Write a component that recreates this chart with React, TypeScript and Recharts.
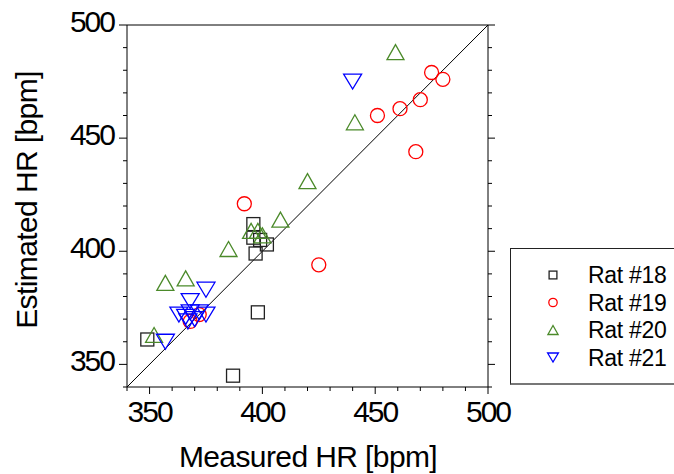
import React from "react";
import { ScatterChart, Scatter, XAxis, YAxis, ReferenceLine, Legend } from "recharts";

const axisTicks = [340, 350, 360, 370, 380, 390, 400, 410, 420, 430, 440, 450, 460, 470, 480, 490, 500];
const labeledTicks = [350, 400, 450, 500];

const rat18 = [
  { x: 349, y: 361 },
  { x: 387, y: 345 },
  { x: 398, y: 373 },
  { x: 396, y: 412 },
  { x: 396, y: 406 },
  { x: 399, y: 405 },
  { x: 402, y: 403 },
  { x: 397, y: 399 },
];

const rat19 = [
  { x: 368, y: 369 },
  { x: 372, y: 372 },
  { x: 392, y: 421 },
  { x: 425, y: 394 },
  { x: 451, y: 460 },
  { x: 461, y: 463 },
  { x: 470, y: 467 },
  { x: 468, y: 444 },
  { x: 475, y: 479 },
  { x: 480, y: 476 },
];

const rat20 = [
  { x: 352, y: 363 },
  { x: 357, y: 386 },
  { x: 366, y: 388 },
  { x: 385, y: 401 },
  { x: 395, y: 409 },
  { x: 398, y: 409 },
  { x: 400, y: 407 },
  { x: 408, y: 414 },
  { x: 420, y: 431 },
  { x: 441, y: 457 },
  { x: 459, y: 488 },
];

const rat21 = [
  { x: 357, y: 360 },
  { x: 363, y: 372 },
  { x: 366, y: 371 },
  { x: 367, y: 369 },
  { x: 368, y: 373 },
  { x: 370, y: 370 },
  { x: 372, y: 373 },
  { x: 375, y: 372 },
  { x: 368, y: 378 },
  { x: 375, y: 383 },
  { x: 440, y: 475 },
];

const series = [
  { name: "Rat #18", data: rat18, color: "#222222", kind: "square" },
  { name: "Rat #19", data: rat19, color: "#ff0000", kind: "circle" },
  { name: "Rat #20", data: rat20, color: "#4b8a2a", kind: "up" },
  { name: "Rat #21", data: rat21, color: "#0000ff", kind: "down" },
];

const FONT = "'Liberation Sans', Arial, sans-serif";

const marker = (kind: string, cx: number, cy: number, color: string, s = 1) => {
  const sw = 1.3;
  switch (kind) {
    case "square":
      return <rect x={cx - 6.5 * s} y={cy - 6.5 * s} width={13 * s} height={13 * s} fill="none" stroke={color} strokeWidth={sw} />;
    case "circle":
      return <circle cx={cx} cy={cy} r={7 * s} fill="none" stroke={color} strokeWidth={sw} />;
    case "up":
      return (
        <polygon
          points={`${cx},${cy - 7.5 * s} ${cx - 8.5 * s},${cy + 7.5 * s} ${cx + 8.5 * s},${cy + 7.5 * s}`}
          fill="none"
          stroke={color}
          strokeWidth={sw}
        />
      );
    default:
      return (
        <polygon
          points={`${cx - 9 * s},${cy - 7.5 * s} ${cx + 9 * s},${cy - 7.5 * s} ${cx},${cy + 7.5 * s}`}
          fill="none"
          stroke={color}
          strokeWidth={sw}
        />
      );
  }
};

const isMajor = (v: number) => labeledTicks.includes(v);

const BottomTick = (props: any) => {
  const { x, y, payload } = props;
  const major = isMajor(payload.value);
  return (
    <g>
      <line x1={x} x2={x} y1={y} y2={y + (major ? 7 : 4)} stroke="#000" />
      {major && (
        <text x={x} y={y + 35} textAnchor="middle" fontFamily={FONT} fontSize={30} letterSpacing={-2} fill="#000">
          {payload.value}
        </text>
      )}
    </g>
  );
};

const LeftTick = (props: any) => {
  const { x, y, payload } = props;
  const major = isMajor(payload.value);
  return (
    <g>
      <line x1={x} x2={x - (major ? 8 : 4)} y1={y} y2={y} stroke="#000" />
      {major && (
        <text x={x - 13} y={y + 7} textAnchor="end" fontFamily={FONT} fontSize={30} letterSpacing={-2} fill="#000">
          {payload.value}
        </text>
      )}
    </g>
  );
};

const TopTick = (props: any) => {
  const { x, y, payload } = props;
  return <line x1={x} x2={x} y1={y} y2={y - (isMajor(payload.value) ? 7 : 4)} stroke="#000" />;
};

const RightTick = (props: any) => {
  const { x, y, payload } = props;
  return <line x1={x} x2={x + (isMajor(payload.value) ? 7 : 4)} y1={y} y2={y} stroke="#000" />;
};

const LegendBox = () => (
  <svg width={164} height={136} style={{ display: "block" }}>
    {series.map((s, i) => {
      const cy = 26 + i * 27.5;
      return (
        <g key={s.name}>
          {marker(s.kind, 42, cy, s.color, 0.6)}
          <text x={77} y={cy + 8} fontFamily={FONT} fontSize={23} letterSpacing={-0.3} fill="#000">
            {s.name}
          </text>
        </g>
      );
    })}
  </svg>
);

export default function App() {
  return (
    <div style={{ position: "absolute", left: 0, top: 0, width: 674, height: 474, background: "#fff" }}>
      <ScatterChart width={674} height={474} margin={{ top: 0, right: 176, bottom: 0, left: 0 }}>
        <XAxis
          dataKey="x"
          type="number"
          domain={[340, 500]}
          ticks={axisTicks}
          interval={0}
          allowDataOverflow
          height={87}
          tickSize={0}
          tickMargin={0}
          tickLine={false}
          tick={BottomTick}
          axisLine={{ stroke: "#000" }}
          label={{
            content: () => (
              <text x={308} y={467} textAnchor="middle" fontFamily={FONT} fontSize={30} letterSpacing={-0.6} fill="#000">
                Measured HR [bpm]
              </text>
            ),
          }}
        />
        <XAxis
          xAxisId="top"
          orientation="top"
          type="number"
          domain={[340, 500]}
          ticks={axisTicks}
          interval={0}
          allowDataOverflow
          height={25}
          tickSize={0}
          tickMargin={0}
          tickLine={false}
          tick={TopTick}
          axisLine={{ stroke: "#000" }}
        />
        <YAxis
          dataKey="y"
          type="number"
          domain={[340, 500]}
          ticks={axisTicks}
          interval={0}
          allowDataOverflow
          width={127}
          tickSize={0}
          tickMargin={0}
          tickLine={false}
          tick={LeftTick}
          axisLine={{ stroke: "#000" }}
          label={{
            content: () => (
              <text
                x={37}
                y={200}
                transform="rotate(-90 37 200)"
                textAnchor="middle"
                fontFamily={FONT}
                fontSize={30}
                letterSpacing={-0.6}
                fill="#000"
              >
                Estimated HR [bpm]
              </text>
            ),
          }}
        />
        <YAxis
          yAxisId="right"
          orientation="right"
          type="number"
          domain={[340, 500]}
          ticks={axisTicks}
          interval={0}
          allowDataOverflow
          width={10}
          tickSize={0}
          tickMargin={0}
          tickLine={false}
          tick={RightTick}
          axisLine={{ stroke: "#000" }}
        />
        <ReferenceLine
          segment={[
            { x: 340, y: 340 },
            { x: 500, y: 500 },
          ]}
          stroke="#000"
          strokeWidth={1}
        />
        {series.map((s) => (
          <Scatter
            key={s.name}
            name={s.name}
            data={s.data}
            isAnimationActive={false}
            shape={(p: any) => marker(s.kind, p.cx, p.cy, s.color)}
          />
        ))}
        <Legend
          layout="vertical"
          align="center"
          verticalAlign="middle"
          content={LegendBox}
          wrapperStyle={{
            left: 510,
            top: 248,
            width: 164,
            height: 137,
            border: "1px solid #222",
            borderRight: "none",
            borderBottom: "2px solid #777",
            background: "#fff",
            boxSizing: "border-box",
          }}
        />
      </ScatterChart>
    </div>
  );
}
